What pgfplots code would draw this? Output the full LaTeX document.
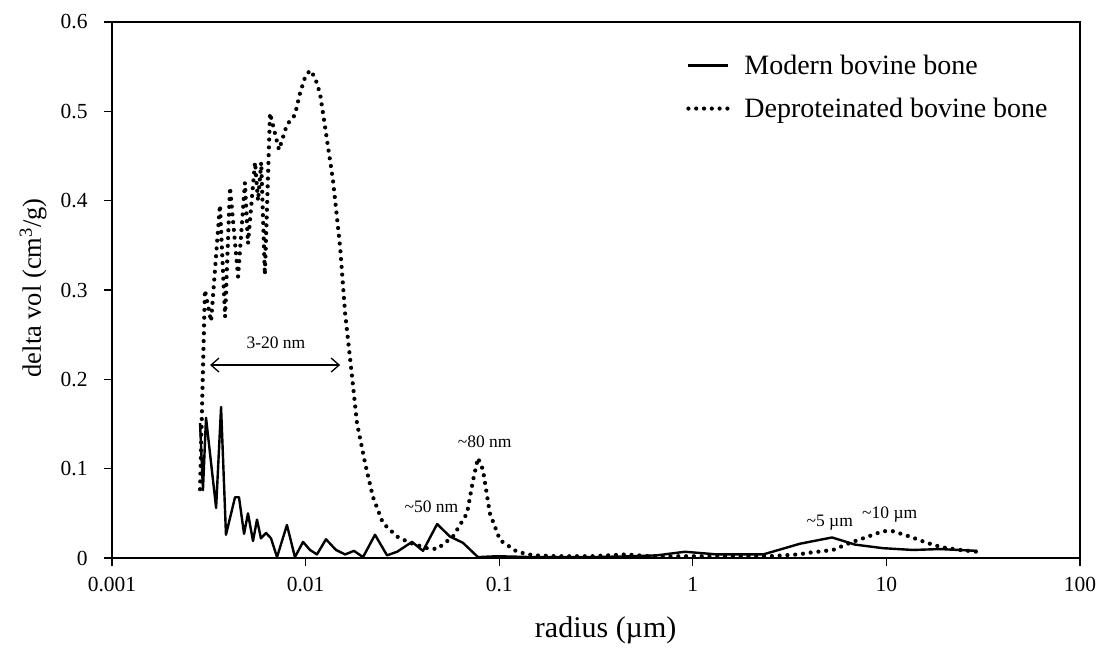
\documentclass[border=0pt]{standalone}
\usepackage{fontspec}
\setmainfont{Liberation Serif}
\usepackage{pgfplots}
\pgfplotsset{compat=1.18}
\usetikzlibrary{arrows.meta}
\pgfplotstableread{
x y
0.00285 0.151
0.00295 0.076
0.00306 0.157
0.00345 0.056
0.00366 0.169
0.00388 0.026
0.00432 0.068
0.00453 0.068
0.00481 0.027
0.00504 0.050
0.00535 0.019
0.00561 0.043
0.00588 0.022
0.00625 0.028
0.00663 0.022
0.00712 0.001
0.00801 0.037
0.00881 0.001
0.00970 0.018
0.01054 0.009
0.01145 0.004
0.01274 0.021
0.01436 0.009
0.0160 0.004
0.01778 0.008
0.0198 0.001
0.02283 0.026
0.02634 0.003
0.0297 0.007
0.03545 0.018
0.04041 0.008
0.0478 0.038
0.0557 0.024
0.0650 0.017
0.0777 0.001
0.0974 0.002
0.15 0.001
0.3 0.001
0.5 0.002
0.653 0.003
0.912 0.007
1.334 0.004
2.31 0.004
3.58 0.016
5.24 0.023
6.89 0.015
9.6 0.011
13.7 0.009
18.9 0.010
29.4 0.008
}\modern
\pgfplotstableread{
x y
0.00285 0.077
0.00302 0.300
0.00325 0.265
0.00361 0.395
0.00384 0.270
0.00407 0.415
0.00448 0.315
0.00486 0.420
0.00504 0.352
0.00548 0.443
0.00568 0.400
0.00590 0.443
0.00616 0.317
0.00655 0.498
0.00729 0.457
0.00801 0.485
0.00881 0.496
0.00935 0.520
0.00993 0.538
0.01054 0.546
0.01118 0.538
0.01187 0.520
0.0123 0.498
0.01385 0.423
0.01508 0.348
0.0160 0.274
0.01738 0.203
0.01843 0.151
0.0203 0.106
0.0223 0.068
0.0251 0.039
0.0297 0.024
0.0346 0.017
0.0424 0.011
0.0478 0.010
0.0577 0.024
0.0682 0.050
0.0733 0.087
0.0777 0.112
0.0824 0.099
0.0895 0.050
0.101 0.020
0.1236 0.007
0.1496 0.003
0.2 0.002
0.3 0.002
0.45 0.004
0.6 0.002
1.0 0.002
1.5 0.002
2.5 0.002
3.5 0.004
4.03 0.006
5.3 0.009
6.49 0.017
7.57 0.022
9.6 0.030
10.8 0.030
13.2 0.024
16.2 0.017
19.3 0.012
24.0 0.009
29.4 0.007
}\deprot
\begin{document}
\begin{tikzpicture}
\useasboundingbox (-112pt,-96pt) rectangle (985pt,558pt);
\begin{axis}[
  at={(0pt,0pt)}, anchor=south west,
  scale only axis, width=968pt, height=536pt,
  xmode=log, xmin=0.001, xmax=100, ymin=0, ymax=0.6,
  log ticks with fixed point,
  xtick={0.001,0.01,0.1,1,10,100},
  ytick={0,0.1,0.2,0.3,0.4,0.5,0.6},
  /pgf/number format/assume math mode=true,
  xtick pos=bottom, ytick pos=left, tick align=outside,
  major tick length=8pt, minor tick length=0pt,
  tick style={line width=1.2pt, black},
  axis line style={line width=1.8pt},
  tick label style={font=\fontsize{21.5}{24}\selectfont},
  xticklabel style={yshift=-8pt},
  yticklabel style={xshift=-13pt},
  xlabel={radius (µm)},
  ylabel={delta vol (cm\textsuperscript{3}/g)},
  xlabel style={font=\fontsize{30}{33}\selectfont, at={(axis description cs:0.51,0)}, anchor=center, yshift=-72pt},
  ylabel style={font=\fontsize{26.5}{30}\selectfont, at={(axis description cs:0,0.504)}, anchor=center, yshift=79pt},
  legend style={at={(rel axis cs:0.59,0.946)}, anchor=north west, draw=none, fill=none,
    font=\fontsize{28}{32}\selectfont, row sep=18pt},
  legend cell align=left,
  legend image code/.code={\draw[#1] (0pt,0pt) -- (40pt,0pt); \path[draw=none] (40pt,0pt) -- (54pt,0pt);},
]
\addplot[black, line width=2.4pt, line join=round] table[x=x,y=y] {\modern};
\addlegendentry{Modern bovine bone}
\addplot[black, line width=4.2pt, dash pattern=on 0pt off 7.8pt, line cap=round] table[x=x,y=y] {\deprot};
\addlegendentry{Deproteinated bovine bone}
\draw[{Straight Barb[length=8pt,width=14pt]}-{Straight Barb[length=8pt,width=14pt]}, line width=1.3pt]
  (axis cs:0.00321,0.216) -- (axis cs:0.01508,0.216);
\node[font=\fontsize{17.5}{20}\selectfont] at (axis cs:0.00703,0.241) {3-20 nm};
\node[font=\fontsize{17.5}{20}\selectfont] at (axis cs:0.0842,0.130) {\textasciitilde80 nm};
\node[font=\fontsize{17.5}{20}\selectfont] at (axis cs:0.0447,0.057) {\textasciitilde50 nm};
\node[font=\fontsize{17.5}{20}\selectfont] at (axis cs:5.1,0.040) {\textasciitilde5 µm};
\node[font=\fontsize{17.5}{20}\selectfont] at (axis cs:10.4,0.049) {\textasciitilde10 µm};
\end{axis}
\end{tikzpicture}
\end{document}
